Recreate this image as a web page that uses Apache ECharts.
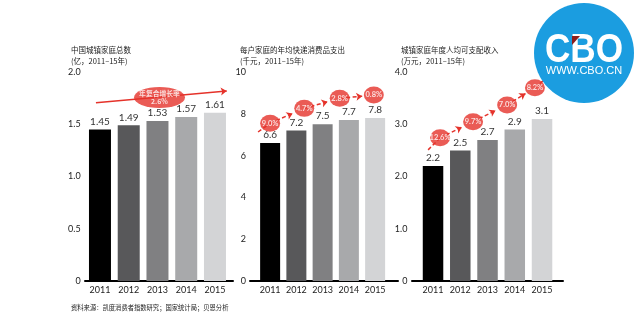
<!DOCTYPE html>
<html><head><meta charset="utf-8">
<script src="https://cdn.jsdelivr.net/npm/echarts@6/dist/echarts.min.js"></script>
<style>html,body{margin:0;padding:0;background:#fff}#c{width:640px;height:325px}</style>
</head><body><div id="c"></div>
<script>
// ---- data ----
const years = ['2011', '2012', '2013', '2014', '2015'];
const households = [1.45, 1.49, 1.53, 1.57, 1.61];
const spending = [6.6, 7.2, 7.5, 7.7, 7.8];
const income = [2.2, 2.5, 2.7, 2.9, 3.1];
const householdsCagr = '2.6%';
const spendingGrowth = ['9.0%', '4.7%', '2.8%', '0.8%'];
const incomeGrowth = ['12.6%', '9.7%', '7.0%', '8.2%'];
// annotation anchors in axis units: [category position, value]
const cagrAnchor = [2.07, 1.756];
const cagrArrow = [[-0.14, 1.706], [4.41, 1.818]];
const spendingAnchors = [[0, 7.55], [1.3, 8.26], [2.65, 8.74], [3.95, 8.9]];
const spendingTrail = [[-0.46, 7.13], [4.6, 8.95]];
const incomeAnchors = [[0.26, 2.74], [1.47, 3.05], [2.72, 3.37], [3.74, 3.70]];
const incomeTrail = [[-0.18, 2.51], [4.3, 3.95]];

// ---- styles ----
const FONT = 'Lato, "Noto Sans CJK SC", sans-serif';
const CJK = '"Noto Sans CJK SC", sans-serif';
const RED = '#e5322a';
const barColors = ['#000000', '#58585a', '#808082', '#a8a9ab', '#d3d4d6'];

const chart = echarts.init(document.getElementById('c'), null, {renderer: 'canvas'});

const panels = [
  {left: 85.6, width: 143.75, lineLeft: 85, lineWidth: 148, max: 2, interval: 0.5, bw: 22, fmt: v => v === 0 ? '0' : v.toFixed(1), margin: 5},
  {left: 257, width: 131.25, lineLeft: 250, lineWidth: 148, max: 10, interval: 2, bw: 20, fmt: v => String(v), margin: 11},
  {left: 419.4, width: 136.25, lineLeft: 412, lineWidth: 151, max: 4, interval: 1, bw: 20.5, fmt: v => v === 0 ? '0' : v.toFixed(1), margin: 12}
];
const TOP = 72, H = 209;

const grid = [], xAxis = [], yAxis = [];
panels.forEach(p => grid.push({left: p.left, top: TOP, width: p.width, height: H}));
panels.forEach(p => grid.push({left: p.lineLeft, top: TOP, width: p.lineWidth, height: H}));
// category axes 0..2
panels.forEach((p, i) => {
  xAxis.push({type: 'category', gridIndex: i, data: years, boundaryGap: true,
    axisLine: {show: false}, axisTick: {show: false},
    axisLabel: {color: '#222', fontSize: 9, fontFamily: FONT, margin: 5, interval: 0}});
});
// overlay value axes 3..5
panels.forEach((p, i) => {
  xAxis.push({type: 'value', gridIndex: i, min: -0.5, max: 4.5, show: false});
});
// axis-line axes 6..8
panels.forEach((p, i) => {
  xAxis.push({type: 'value', gridIndex: 3 + i, min: 0, max: 1, position: 'bottom',
    axisLine: {show: true, lineStyle: {color: '#000', width: 2}},
    axisTick: {show: false}, axisLabel: {show: false}, splitLine: {show: false}});
});
panels.forEach((p, i) => {
  yAxis.push({type: 'value', gridIndex: i, min: 0, max: p.max, interval: p.interval,
    axisLine: {show: false}, axisTick: {show: false}, splitLine: {show: false},
    axisLabel: {color: '#222', fontSize: 9, fontFamily: FONT, margin: p.margin, formatter: p.fmt}});
});
panels.forEach((p, i) => {
  yAxis.push({type: 'value', gridIndex: 3 + i, min: 0, max: 1, show: false});
});

function barSeries(i, data) {
  return {
    type: 'bar', xAxisIndex: i, yAxisIndex: i, barWidth: panels[i].bw, z: 2,
    data: data.map((v, k) => ({value: v, itemStyle: {color: barColors[k]}})),
    label: {show: true, position: 'top', distance: 3, color: '#333', fontSize: 10, fontFamily: FONT}
  };
}

function growthSeries(i, anchors, labels, trail) {
  const segs = [];
  segs.push([{coord: trail[0], symbol: 'none'}, {coord: anchors[0], symbol: 'none'}]);
  for (let k = 0; k < anchors.length - 1; k++) {
    const a = anchors[k], b = anchors[k + 1];
    const t = 0.66;
    segs.push([{coord: a, symbol: 'none'}, {coord: [a[0] + t * (b[0] - a[0]), a[1] + t * (b[1] - a[1])]}]);
  }
  segs.push([{coord: anchors[anchors.length - 1], symbol: 'none'}, {coord: trail[1]}]);
  return {
    type: 'scatter', xAxisIndex: 3 + i, yAxisIndex: i, z: 5,
    symbol: 'circle', symbolSize: [20, 17], itemStyle: {color: RED},
    data: anchors.map((a, k) => ({value: a, name: labels[k]})),
    label: {show: true, position: 'inside', formatter: p => p.name, color: '#fff', fontSize: 7.5, fontWeight: 'bold', fontFamily: FONT},
    markLine: {silent: true, z: 4, symbol: ['none', 'arrow'], symbolSize: 6, animation: false,
      lineStyle: {color: RED, type: [4, 2.5], width: 1.5}, label: {show: false}, data: segs}
  };
}

const series = [
  barSeries(0, households), barSeries(1, spending), barSeries(2, income),
  {
    type: 'scatter', xAxisIndex: 3, yAxisIndex: 0, z: 5,
    symbol: 'circle', symbolSize: [51, 21], itemStyle: {color: RED},
    data: [{value: cagrAnchor, name: '年复合增长率\n' + householdsCagr}],
    label: {show: true, position: 'inside', formatter: p => p.name, color: '#fff', fontSize: 6.8, fontWeight: 'bold', lineHeight: 8.5, fontFamily: CJK},
    markLine: {silent: true, z: 4, symbol: ['none', 'arrow'], symbolSize: 6, animation: false,
      lineStyle: {color: RED, type: 'solid', width: 1.5}, label: {show: false},
      data: [[{coord: cagrArrow[0]}, {coord: cagrArrow[1]}]]}
  },
  growthSeries(1, spendingAnchors, spendingGrowth, spendingTrail),
  growthSeries(2, incomeAnchors, incomeGrowth, incomeTrail)
];

const titleStyle = {color: '#222', fontSize: 7.5, lineHeight: 11, fontFamily: CJK, fontWeight: 'normal'};
const title = [
  {text: '中国城镇家庭总数\n(亿，2011–15年)', left: 66, top: 40, textStyle: titleStyle},
  {text: '每户家庭的年均快递消费品支出\n(千元，2011–15年)', left: 235, top: 40, textStyle: titleStyle},
  {text: '城镇家庭年度人均可支配收入\n(万元，2011–15年)', left: 396, top: 40, textStyle: titleStyle},
  {text: '资料来源：凯度消费者指数研究；国家统计局；贝恩分析', left: 66, top: 299, textStyle: {color: '#222', fontSize: 6.3, fontFamily: CJK, fontWeight: 'normal'}}
];

const graphic = [
  {type: 'circle', z: 100, shape: {cx: 584, cy: 53, r: 50}, style: {fill: '#1b9de0'}},
  {type: 'text', z: 101, x: 584, y: 51, scaleX: 0.88, originX: 0, originY: 0,
    style: {text: 'CBO', fill: '#fff', font: 'bold 40px "Liberation Sans", Arial, sans-serif', textAlign: 'center', textVerticalAlign: 'middle'}},
  {type: 'polygon', z: 102, shape: {points: [[572, 36], [580, 36], [572, 45]]}, style: {fill: '#8b1c1c'}},
  {type: 'text', z: 101, x: 584, y: 71,
    style: {text: 'WWW.CBO.CN', fill: '#fff', font: '11px "Liberation Sans", Arial, sans-serif', textAlign: 'center', textVerticalAlign: 'middle'}}
];

chart.setOption({
  animation: false,
  backgroundColor: '#fff',
  title, grid, xAxis, yAxis, series, graphic
});
</script>
</body></html>
